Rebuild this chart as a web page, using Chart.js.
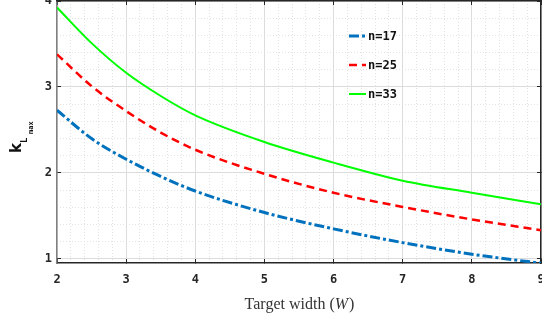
<!DOCTYPE html>
<html>
<head>
<meta charset="utf-8">
<script src="https://cdn.jsdelivr.net/npm/chart.js@4.4.1/dist/chart.umd.min.js"></script>
<style>
html,body{margin:0;padding:0;background:#fff;overflow:hidden}
#wrap{width:542px;height:323px}
</style>
</head>
<body>
<div id="wrap"><canvas id="kChart" width="542" height="323"></canvas></div>
<script>
// 목표 폭(W)에 따른 k_Lmax 값
const widths = [2, 2.5, 3, 3.5, 4, 5, 6, 7, 8, 9];
const k_n17 = [2.73, 2.40, 2.16, 1.96, 1.79, 1.54, 1.35, 1.19, 1.055, 0.95];
const k_n25 = [3.38, 3.01, 2.72, 2.47, 2.27, 1.99, 1.77, 1.605, 1.46, 1.335];
const k_n33 = [3.925, 3.51, 3.165, 2.895, 2.67, 2.36, 2.12, 1.91, 1.77, 1.636];
const seriesNames = ["n=17", "n=25", "n=33"];
const xTicks = [2, 3, 4, 5, 6, 7, 8, 9];
const yTicks = [1, 2, 3, 4];
const xMin = 2, xMax = 9, yMin = 0.953, yMax = 4;

// 보조 격자 (0.2 간격, 정수 제외)
let xMinor = [], yMinor = [];
for(let i=0; i<=35; i++){ if(i%5) xMinor.push(xMin + i*0.2); }
for(let i=0; i<=15; i++){ if(i%5) yMinor.push(1 + i*0.2); }

const dark = "#262626";
const tickFont = {family:"DejaVu Sans Mono", size:12, weight:"bold"};

function pts(arr){
    return widths.map((w, i) => ({x:w, y:arr[i]}));
}
function setTicks(list){
    return function(s){ s.ticks = list.map(v => ({value:v})); };
}

const extraDraw = {
    id:"extraDraw",
    afterDraw(chart){
        const ctx = chart.ctx;
        // 범례
        chart.data.datasets.forEach((ds, i) => {
            const y = 36 + i*29;
            ctx.save();
            ctx.strokeStyle = ds.borderColor;
            ctx.lineWidth = ds.borderWidth;
            ctx.setLineDash(ds.borderDash || []);
            ctx.beginPath(); ctx.moveTo(349, y); ctx.lineTo(366, y); ctx.stroke();
            ctx.setLineDash([]);
            ctx.fillStyle = "#111";
            ctx.font = 'bold 12px "DejaVu Sans Mono"';
            ctx.textBaseline = "middle";
            ctx.fillText(ds.label, 368, y+1);
            ctx.restore();
        });
        // x축 제목
        ctx.save();
        ctx.fillStyle = "#333";
        ctx.textBaseline = "alphabetic";
        const f1 = '16px "Liberation Serif"', f2 = 'italic 16px "Liberation Serif"';
        ctx.font = f1;
        const a = "Target width (", c = ")";
        const wa = ctx.measureText(a).width, wc = ctx.measureText(c).width;
        ctx.font = f2;
        const wb = ctx.measureText("W").width;
        let x = 299.5 - (wa+wb+wc+1)/2;
        ctx.font = f1; ctx.fillText(a, x, 309); x += wa;
        ctx.font = f2; ctx.fillText("W", x, 309); x += wb + 1;
        ctx.font = f1; ctx.fillText(c, x, 309);
        ctx.restore();
        // y축 제목 k_{L_max}
        ctx.save();
        ctx.translate(21, 153);
        ctx.rotate(-Math.PI/2);
        ctx.fillStyle = "#111";
        ctx.font = 'bold 15px "DejaVu Sans"';
        ctx.fillText("k", 0, 0);
        ctx.font = 'bold 9px "DejaVu Sans Mono"';
        ctx.fillText("L", 10, 6);
        ctx.font = 'bold 7px "DejaVu Sans Mono"';
        ctx.fillText("max", 19, 12);
        ctx.restore();
    }
};

new Chart(document.getElementById("kChart"), {
    type:"line",
    data:{
        datasets:[
            {label:seriesNames[0], data:pts(k_n17), borderColor:"#0072BD", borderWidth:3, borderDash:[10,3,3,3]},
            {label:seriesNames[1], data:pts(k_n25), borderColor:"#FF0000", borderWidth:2.5, borderDash:[8,5]},
            {label:seriesNames[2], data:pts(k_n33), borderColor:"#00FF00", borderWidth:2}
        ]
    },
    options:{
        responsive:false,
        animation:false,
        layout:{padding:{top:1, right:1, left:0, bottom:0}},
        elements:{
            point:{radius:0},
            line:{cubicInterpolationMode:"monotone", fill:false}
        },
        plugins:{legend:{display:false}, tooltip:{enabled:false}},
        scales:{
            xm:{
                type:"linear", position:"bottom", min:xMin, max:xMax,
                afterBuildTicks:setTicks(xMinor),
                grid:{color:"#e3e3e3", drawTicks:false},
                border:{display:false, dash:[1,2]},
                ticks:{display:false},
                afterFit(s){ s.height = 0; s.paddingLeft = 0; s.paddingRight = 0; }
            },
            ym:{
                type:"linear", position:"left", min:yMin, max:yMax,
                afterBuildTicks:setTicks(yMinor),
                grid:{color:"#e3e3e3", drawTicks:false},
                border:{display:false, dash:[1,2]},
                ticks:{display:false},
                afterFit(s){ s.width = 0; s.paddingTop = 0; s.paddingBottom = 0; }
            },
            x:{
                type:"linear", position:"bottom", min:xMin, max:xMax,
                afterBuildTicks:setTicks(xTicks),
                grid:{color:"#dcdcdc", tickLength:-4, tickColor:dark, tickWidth:1},
                border:{color:dark, width:1.5},
                ticks:{font:tickFont, color:dark, padding:14, maxRotation:0, autoSkip:false},
                afterFit(s){ s.height = 60; s.paddingLeft = 0; s.paddingRight = 0; }
            },
            y:{
                type:"linear", position:"left", min:yMin, max:yMax,
                afterBuildTicks:setTicks(yTicks),
                grid:{color:"#dcdcdc", tickLength:-4, tickColor:dark, tickWidth:1},
                border:{color:"#808080", width:1.5},
                ticks:{font:tickFont, color:dark, padding:9, autoSkip:false},
                afterFit(s){ s.width = 57; s.paddingTop = 0; s.paddingBottom = 0; }
            },
            xt:{
                type:"linear", position:"top", min:xMin, max:xMax,
                afterBuildTicks:setTicks(xTicks),
                grid:{drawOnChartArea:false, tickLength:-4, tickColor:dark, tickWidth:1},
                border:{color:dark, width:1.5},
                ticks:{display:false},
                afterFit(s){ s.height = 0; s.paddingLeft = 0; s.paddingRight = 0; }
            },
            yr:{
                type:"linear", position:"right", min:yMin, max:yMax,
                afterBuildTicks:setTicks(yTicks),
                grid:{drawOnChartArea:false, tickLength:-4, tickColor:dark, tickWidth:1},
                border:{color:dark, width:1.5},
                ticks:{display:false},
                afterFit(s){ s.width = 0; s.paddingTop = 0; s.paddingBottom = 0; }
            }
        }
    },
    plugins:[extraDraw]
});
</script>
</body>
</html>
